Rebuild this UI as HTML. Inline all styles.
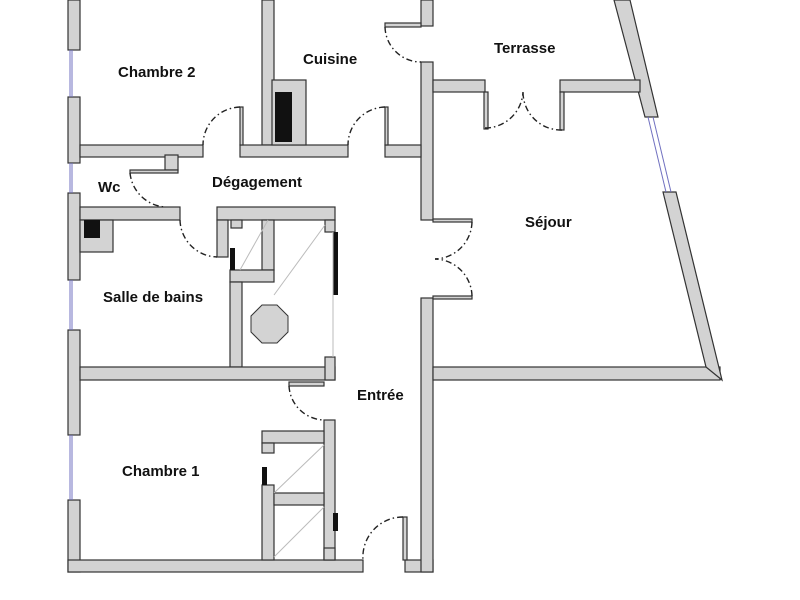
<!DOCTYPE html>
<html><head><meta charset="utf-8"><style>
html,body{margin:0;padding:0;background:#fff;width:800px;height:600px;overflow:hidden}
svg{display:block}
text{font-family:"Liberation Sans",sans-serif;font-weight:bold;font-size:15px;fill:#111}
.w{fill:#d3d3d3;stroke:#333;stroke-width:1.2}
.b{fill:#111}
.d{fill:none;stroke:#222;stroke-width:1.4;stroke-dasharray:6,3,1.5,3}
.t{stroke:#bbb;stroke-width:1;fill:none}
.win{stroke:#7070c0;stroke-width:1;fill:none}
</style></head><body>
<svg width="800" height="600" viewBox="0 0 800 600">
<!-- left outer wall -->
<rect class="w" x="68" y="0" width="12" height="50"/>
<rect class="w" x="68" y="97" width="12" height="66"/>
<rect class="w" x="68" y="193" width="12" height="87"/>
<rect class="w" x="68" y="330" width="12" height="105"/>
<rect class="w" x="68" y="500" width="12" height="72"/>
<g class="win"><line x1="70" y1="50" x2="70" y2="97"/><line x1="72" y1="50" x2="72" y2="97"/><line x1="70" y1="163" x2="70" y2="193"/><line x1="72" y1="163" x2="72" y2="193"/><line x1="70" y1="280" x2="70" y2="330"/><line x1="72" y1="280" x2="72" y2="330"/><line x1="70" y1="435" x2="70" y2="500"/><line x1="72" y1="435" x2="72" y2="500"/></g>
<!-- bottom wall -->
<rect class="w" x="68" y="560" width="295" height="12"/>
<rect class="w" x="405" y="560" width="28" height="12"/>
<rect class="w" x="403" y="517" width="4" height="43"/>
<!-- entree/sejour wall -->
<rect class="w" x="421" y="298" width="12" height="274"/>
<rect class="w" x="421" y="62" width="12" height="158"/>
<rect class="w" x="421" y="0" width="12" height="26"/>
<rect class="w" x="385" y="23" width="36" height="4"/>
<!-- sejour door jambs -->
<rect class="w" x="433" y="219" width="39" height="3"/>
<rect class="w" x="433" y="296" width="39" height="3"/>
<!-- sejour bottom & slanted -->
<rect class="w" x="433" y="367" width="287" height="13"/>
<polygon class="w" points="614,0 630,0 658,117 645,117"/>
<polygon class="w" points="663,192 676,192 722,380 706,367"/>
<g class="win"><line x1="648" y1="117" x2="666" y2="192"/><line x1="653" y1="117" x2="671" y2="192"/></g>
<!-- terrasse wall -->
<rect class="w" x="433" y="80" width="52" height="12"/>
<rect class="w" x="560" y="80" width="80" height="12"/>
<rect class="w" x="484" y="92" width="4" height="37"/>
<rect class="w" x="560" y="92" width="4" height="38"/>
<!-- chambre2/cuisine wall -->
<rect class="w" x="262" y="0" width="12" height="145"/>
<rect class="w" x="80" y="145" width="123" height="12"/>
<rect class="w" x="240" y="145" width="108" height="12"/>
<rect class="w" x="240" y="107" width="3" height="38"/>
<rect class="w" x="272" y="80" width="34" height="65"/>
<rect class="b" x="275" y="92" width="17" height="50"/>
<rect class="w" x="385" y="145" width="36" height="12"/>
<rect class="w" x="385" y="107" width="3" height="38"/>
<!-- wc -->
<rect class="w" x="165" y="155" width="13" height="15"/>
<rect class="w" x="130" y="170" width="48" height="3"/>
<rect class="w" x="80" y="207" width="100" height="13"/>
<rect class="w" x="80" y="220" width="33" height="32"/>
<rect class="b" x="84" y="220" width="16" height="18"/>
<!-- bath -->
<rect class="w" x="217" y="207" width="118" height="13"/>
<rect class="w" x="217" y="220" width="11" height="37"/>
<rect class="w" x="231" y="220" width="11" height="8"/>
<rect class="w" x="262" y="220" width="12" height="50"/>
<rect class="w" x="230" y="270" width="44" height="12"/>
<rect class="w" x="230" y="282" width="12" height="85"/>
<rect class="b" x="230" y="248" width="5" height="22"/>
<rect class="w" x="325" y="220" width="10" height="12"/>
<rect class="b" x="333" y="232" width="5" height="63"/>
<line class="t" x1="240" y1="270" x2="268" y2="220"/>
<line class="t" x1="274" y1="295" x2="325" y2="225"/>
<polygon points="262,305 277,305 288,316 288,332 277,343 262,343 251,332 251,316" fill="#d3d3d3" stroke="#333"/>
<rect class="w" x="80" y="367" width="255" height="13"/>
<rect class="w" x="325" y="357" width="10" height="23"/>
<line class="t" x1="333" y1="232" x2="333" y2="357"/>
<!-- chambre1 closets -->
<rect class="w" x="289" y="382" width="35" height="4"/>
<rect class="w" x="324" y="420" width="11" height="140"/>
<rect class="w" x="262" y="431" width="62" height="12"/>
<rect class="w" x="262" y="443" width="12" height="10"/>
<rect class="w" x="262" y="485" width="12" height="75"/>
<rect class="b" x="262" y="467" width="5" height="18"/>
<rect class="w" x="274" y="493" width="50" height="12"/>
<rect class="b" x="333" y="513" width="5" height="18"/>
<rect class="w" x="324" y="548" width="11" height="12"/>
<line class="t" x1="274" y1="493" x2="324" y2="445"/>
<line class="t" x1="274" y1="557" x2="324" y2="507"/>
<!-- doors -->
<path class="d" d="M240,107 A38,38 0 0 0 203,145"/>
<path class="d" d="M385,107 A38,38 0 0 0 348,145"/>
<path class="d" d="M385,27 A36,36 0 0 0 421,62"/>
<path class="d" d="M130,173 A38,38 0 0 0 165,207"/>
<path class="d" d="M180,220 A38,38 0 0 0 217,257"/>
<path class="d" d="M289,386 A36,36 0 0 0 324,420"/>
<path class="d" d="M403,517 A40,40 0 0 0 363,560"/>
<path class="d" d="M485,128 A38,38 0 0 0 523,92"/>
<path class="d" d="M562,130 A38,38 0 0 1 523,92"/>
<path class="d" d="M472,222 A38,38 0 0 1 435,259"/>
<path class="d" d="M472,296 A38,38 0 0 0 435,259"/>
<!-- labels -->
<text x="118" y="77">Chambre 2</text>
<text x="303" y="64">Cuisine</text>
<text x="494" y="53">Terrasse</text>
<text x="98" y="192">Wc</text>
<text x="212" y="187">Dégagement</text>
<text x="525" y="227">Séjour</text>
<text x="103" y="302">Salle de bains</text>
<text x="357" y="400">Entrée</text>
<text x="122" y="476">Chambre 1</text>
</svg>
</body></html>
